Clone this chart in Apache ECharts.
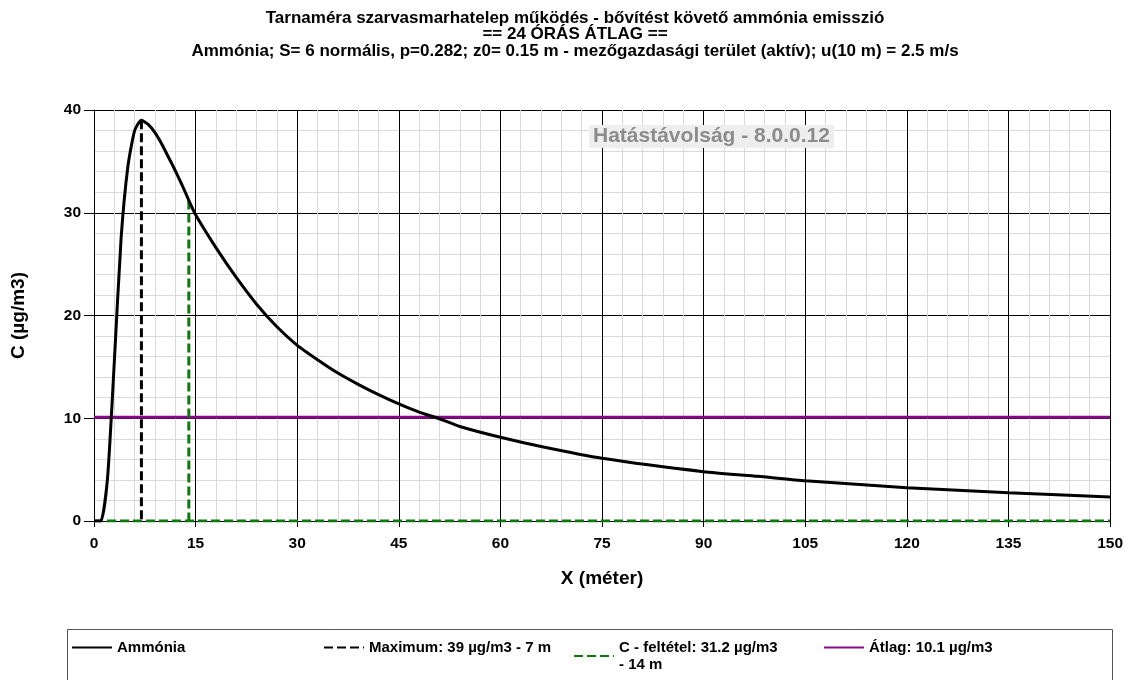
<!DOCTYPE html>
<html>
<head>
<meta charset="utf-8">
<script src="https://cdn.jsdelivr.net/npm/echarts@6/dist/echarts.min.js"></script>
<style>
  html, body { margin: 0; padding: 0; background: #fff; }
  #main { width: 1126px; height: 680px; }
</style>
</head>
<body>
<div id="main"></div>
<script>
// távolság (m) és koncentráció (µg/m3)
var distX = [0, 1, 2, 3, 4, 5, 6, 7, 8, 9, 10, 11, 12, 13, 14, 15, 18, 21, 24, 27, 30, 33, 36, 39, 42, 45, 48, 51, 54, 60, 66, 75, 90, 98, 105, 120, 135, 150];
var concY = [0, 0, 4.2, 15.5, 27.5, 34.5, 38, 39, 38.6, 37.8, 36.7, 35.4, 34.1, 32.7, 31.2, 29.8, 26.6, 23.7, 21.1, 18.9, 17.1, 15.7, 14.4, 13.3, 12.3, 11.4, 10.6, 9.95, 9.2, 8.15, 7.25, 6.1, 4.8, 4.35, 3.92, 3.24, 2.76, 2.34];

var maxPoint = [7, 39];        // Maximum: 39 µg/m3 - 7 m
var limitPoint = [14, 31.2];   // C - feltétel: 31.2 µg/m3 - 14 m
var avgValue = 10.1;           // Átlag
var xRange = [0, 150];

var names = ['Ammónia', 'Maximum: 39 µg/m3 - 7 m', 'C - feltétel: 31.2 µg/m3\n- 14 m', 'Átlag: 10.1 µg/m3'];

var font = 'Liberation Sans, Arial, sans-serif';
var curve = distX.map(function (x, i) { return [x, concY[i]]; });

var myChart = echarts.init(document.getElementById('main'));

function legendAt(name, left, top) {
    return {
        data: [name],
        left: left,
        top: top,
        padding: 0,
        orient: 'horizontal',
        itemWidth: 40,
        itemHeight: 14,
        itemGap: 7,
        selectedMode: false,
        itemStyle: { opacity: 0 },
        textStyle: { fontFamily: font, fontWeight: 'bold', fontSize: 15, color: '#000', lineHeight: 17 }
    };
}

var option = {
    animation: false,
    backgroundColor: '#fff',
    title: {
        text: 'Tarnaméra szarvasmarhatelep működés - bővítést követő ammónia emisszió\n== 24 ÓRÁS ÁTLAG ==\nAmmónia; S= 6 normális, p=0.282; z0= 0.15 m - mezőgazdasági terület (aktív); u(10 m) = 2.5 m/s',
        left: 575,
        top: 10,
        padding: 0,
        textAlign: 'center',
        textStyle: { fontFamily: font, fontWeight: 'bold', fontSize: 17, color: '#000', lineHeight: 16.5 }
    },
    legend: [
        legendAt(names[0], 71, 639),
        legendAt(names[1], 323, 639),
        legendAt(names[2], 573, 639),
        legendAt(names[3], 823, 639)
    ],
    grid: { left: 94, right: 15, top: 110, bottom: 159 },
    xAxis: {
        type: 'value',
        min: 0, max: 150, interval: 15,
        name: 'X (méter)',
        nameLocation: 'middle',
        nameGap: 48,
        nameTextStyle: { fontFamily: font, fontWeight: 'bold', fontSize: 19, color: '#000' },
        axisLine: { lineStyle: { color: '#000', width: 1 } },
        axisTick: { show: true, length: 6, lineStyle: { color: '#000' } },
        axisLabel: { fontFamily: font, fontWeight: 'bold', fontSize: 15.5, color: '#000', margin: 15 },
        splitLine: { show: true, lineStyle: { color: '#000', width: 1 } },
        minorTick: { show: false, splitNumber: 5 },
        minorSplitLine: { show: true, lineStyle: { color: '#d9d9d9', width: 1 } }
    },
    yAxis: {
        type: 'value',
        min: 0, max: 40, interval: 10,
        name: 'C (µg/m3)',
        nameLocation: 'middle',
        nameGap: 66,
        nameRotate: 90,
        nameTextStyle: { fontFamily: font, fontWeight: 'bold', fontSize: 19, color: '#000' },
        axisLine: { show: true, lineStyle: { color: '#000', width: 1 } },
        axisTick: { show: true, length: 10, lineStyle: { color: '#000' } },
        axisLabel: { fontFamily: font, fontWeight: 'bold', fontSize: 15.5, color: '#000', margin: 13 },
        splitLine: { show: true, lineStyle: { color: '#000', width: 1 } },
        minorTick: { show: false, splitNumber: 5 },
        minorSplitLine: { show: true, lineStyle: { color: '#d9d9d9', width: 1 } }
    },
    graphic: [
        {
            type: 'rect',
            shape: { x: 67.5, y: 629.5, width: 1045, height: 80 },
            style: { fill: 'none', stroke: '#555', lineWidth: 1 },
            z: 1
        },
        {
            type: 'text',
            left: 589,
            top: 125,
            z: 100,
            style: {
                text: 'Hatástávolság - 8.0.0.12',
                fontFamily: font,
                fontSize: 21,
                fontWeight: 'bold',
                fill: '#8c8c8c',
                backgroundColor: '#eeeeee',
                padding: [1, 4, 1, 4]
            }
        }
    ],
    series: [
        {
            name: names[0],
            type: 'line',
            data: curve,
            smooth: 0.2,
            symbol: 'none',
            lineStyle: { color: '#000', width: 3 },
            itemStyle: { color: '#000' },
            z: 5
        },
        {
            name: names[1],
            type: 'line',
            data: [[maxPoint[0], maxPoint[1]], [maxPoint[0], 0]],
            symbol: 'none',
            lineStyle: { color: '#000', width: 3, type: [9, 4] },
            itemStyle: { color: '#000' },
            z: 4
        },
        {
            name: names[2],
            type: 'line',
            data: [[limitPoint[0], limitPoint[1]], [limitPoint[0], 0], '-', [xRange[0], 0], [xRange[1], 0]],
            symbol: 'none',
            lineStyle: { color: '#0a7a0a', width: 3, type: [9, 4] },
            itemStyle: { color: '#0a7a0a' },
            z: 4
        },
        {
            name: names[3],
            type: 'line',
            data: [[xRange[0], avgValue], [xRange[1], avgValue]],
            symbol: 'none',
            lineStyle: { color: '#850a85', width: 3 },
            itemStyle: { color: '#850a85' },
            z: 3
        }
    ]
};
myChart.setOption(option);
</script>
</body>
</html>
